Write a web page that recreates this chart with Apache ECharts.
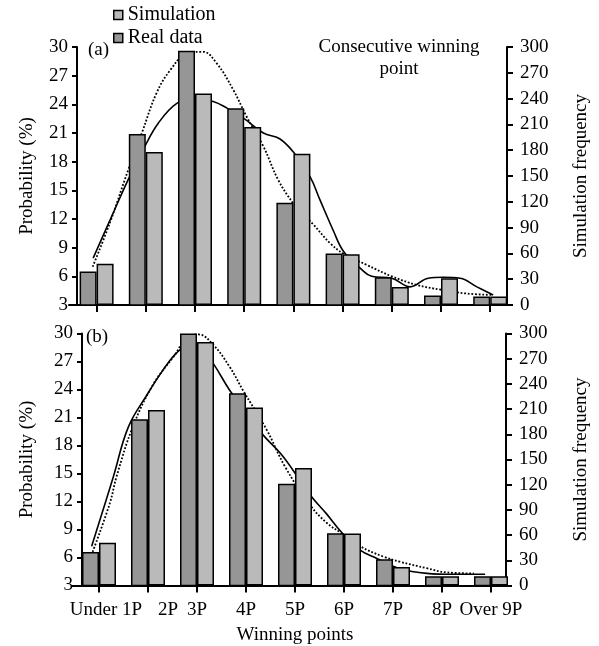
<!DOCTYPE html>
<html>
<head>
<meta charset="utf-8">
<script src="https://cdn.jsdelivr.net/npm/echarts@6/dist/echarts.min.js"></script>
<style>
html, body { margin: 0; padding: 0; background: #fff; }
#main { width: 599px; height: 646px; }
</style>
</head>
<body>
<div id="main"></div>
<script>
// categories on the x axis
var categories = ['Under 1P', '2P', '3P', '4P', '5P', '6P', '7P', '8P', 'Over 9P'];

// (a) bars: real data in %, simulation as frequency
var realA = [6.5, 20.9, 29.6, 23.6, 13.7, 8.4, 5.9, 4.0, 3.9];
var simA = [48, 178, 246, 207, 176, 59, 21, 31, 10];
// (b) bars
var realB = [6.6, 20.8, 30.0, 23.6, 13.9, 8.6, 5.8, 4.0, 4.0];
var simB = [51, 209, 290, 212, 140, 62, 22, 11, 11];

// fitted curves, [category position, %]
var solidA = [[-0.07, 7.9], [0.3, 12.2], [0.64, 16.1], [0.98, 19.6], [1.25, 22.0], [1.63, 24.1], [2.0, 24.6],
  [2.37, 24.3], [2.65, 23.6], [3.0, 22.5], [3.39, 21.0], [3.72, 20.4], [4.0, 19.0], [4.34, 16.4], [4.54, 14.0],
  [4.81, 10.8], [5.02, 8.6], [5.39, 6.7], [5.59, 6.0], [6.0, 5.8], [6.37, 4.9], [6.74, 5.8], [7.05, 5.9],
  [7.39, 5.8], [7.73, 4.9], [8.06, 4.05]];
var dottedA = [[-0.08, 7.0], [0.27, 11.6], [0.64, 17.1], [0.92, 21.0], [1.22, 25.2], [1.5, 27.6], [1.83, 29.3],
  [2.16, 29.5], [2.44, 28.3], [2.78, 25.5], [3.05, 22.7], [3.39, 19.6], [3.69, 16.1], [4.0, 13.6], [4.13, 12.9],
  [4.41, 11.4], [4.74, 9.5], [5.01, 8.4], [5.49, 7.2], [6.0, 6.0], [6.51, 5.1], [7.0, 4.6], [7.52, 4.2], [8.06, 4.05]];
var solidB = [[-0.15, 7.2], [0.29, 14.6], [0.6, 20.0], [1.0, 23.6], [1.31, 26.1], [1.58, 27.9], [1.85, 28.8],
  [2.1, 28.3], [2.33, 26.8], [2.67, 23.9], [3.0, 21.6], [3.32, 19.3], [3.76, 16.8], [4.31, 12.7], [4.64, 10.7],
  [4.95, 8.7], [5.33, 6.8], [5.67, 5.9], [6.14, 4.8], [6.69, 4.3], [7.22, 4.2], [7.88, 4.2]];
var dottedB = [[-0.13, 6.6], [0.22, 11.8], [0.36, 14.7], [0.69, 20.0], [1.1, 24.5], [1.52, 27.5], [1.86, 29.8],
  [2.03, 29.9], [2.33, 28.8], [2.67, 26.4], [2.94, 23.9], [3.42, 19.7], [3.8, 15.7], [4.31, 11.6], [4.65, 9.7],
  [4.95, 8.6], [5.33, 7.2], [5.8, 6.1], [6.14, 5.55], [6.69, 4.85], [7.1, 4.4], [7.65, 4.3]];

var font = 'Liberation Serif';
var dark = '#969696';
var light = '#bababa';
var black = '#000';

// plot = category bands, yLeft/yWidth = between the two y axis lines, xLeft/xWidth = the drawn x axis line
var panels = [
  { real: realA, sim: simA, solid: solidA, dotted: dottedA, top: 47, height: 258,
    plotLeft: 72, plotWidth: 442.8, yLeft: 77, yWidth: 430, xLeft: 69, xWidth: 438,
    leftGap: 35, rightGap: 65, labels: false },
  { real: realB, sim: simB, solid: solidB, dotted: dottedB, top: 333.5, height: 252,
    plotLeft: 74.5, plotWidth: 441, yLeft: 82, yWidth: 424, xLeft: 72, xWidth: 434,
    leftGap: 40, rightGap: 66, labels: true }
];

function lineStyle() { return { color: black, width: 2 }; }
function textStyle(size) { return { color: black, fontFamily: font, fontSize: size || 19 }; }

var grid = [], xAxis = [], yAxis = [], series = [];

panels.forEach(function (p) {
  var gPlot = grid.length;
  grid.push({ left: p.plotLeft, width: p.plotWidth, top: p.top, height: p.height });
  var gL = grid.length;
  grid.push({ left: p.yLeft - 5, width: p.yWidth + 5, top: p.top, height: p.height });
  var gR = grid.length;
  grid.push({ left: p.yLeft, width: p.yWidth, top: p.top, height: p.height });
  var gX = grid.length;
  grid.push({ left: p.xLeft, width: p.xWidth, top: p.top, height: p.height });

  // plot grid: category ticks/labels, hidden value axes for the marks
  var xCat = xAxis.length;
  xAxis.push({
    type: 'category', gridIndex: gPlot, data: categories,
    axisLine: { show: false },
    axisTick: { show: true, alignWithLabel: true, length: 7, lineStyle: lineStyle() },
    axisLabel: Object.assign({
      show: p.labels, interval: 0, margin: 15,
      formatter: function (v, idx) {
        if (idx === 0) return '{u|' + v + '}';
        if (idx === 1) return '{t|' + v + '}';
        return v;
      },
      rich: {
        u: Object.assign({ padding: [0, 0, 0, 14] }, textStyle()),
        t: Object.assign({ padding: [0, 0, 0, 40] }, textStyle())
      }
    }, textStyle()),
    name: p.labels ? 'Winning points' : '',
    nameLocation: 'middle', nameGap: 40,
    nameTextStyle: textStyle()
  });
  var xCurve = xAxis.length;
  xAxis.push({ type: 'value', gridIndex: gPlot, min: -0.5, max: 8.5, show: false });
  var yProb = yAxis.length;
  yAxis.push({ type: 'value', gridIndex: gPlot, position: 'left', min: 3, max: 30, show: false });
  var yFreq = yAxis.length;
  yAxis.push({ type: 'value', gridIndex: gPlot, position: 'right', min: 0, max: 300, show: false });

  // left axis: sits on x = 0 of a hidden pixel-scaled axis, 5px inside its grid
  xAxis.push({ type: 'value', gridIndex: gL, min: -5, max: p.yWidth, show: false });
  yAxis.push({
    type: 'value', gridIndex: gL, position: 'left',
    min: 3, max: 30, interval: 3,
    axisLine: { show: true, onZero: true, lineStyle: lineStyle() },
    axisTick: { show: true, length: 5, lineStyle: lineStyle() },
    axisLabel: Object.assign({ margin: 4 }, textStyle()),
    splitLine: { show: false },
    name: 'Probability (%)', nameLocation: 'middle', nameGap: p.leftGap,
    nameTextStyle: textStyle()
  });

  // right axis
  xAxis.push({ type: 'value', gridIndex: gR, min: 0, max: 1, show: false });
  yAxis.push({
    type: 'value', gridIndex: gR, position: 'right',
    min: 0, max: 300, interval: 30,
    axisLine: { show: true, onZero: false, lineStyle: lineStyle() },
    axisTick: { show: true, length: 6, lineStyle: lineStyle() },
    axisLabel: Object.assign({ margin: 13 }, textStyle()),
    splitLine: { show: false },
    name: 'Simulation frequency', nameLocation: 'middle', nameGap: p.rightGap,
    nameTextStyle: textStyle()
  });

  // x axis line
  xAxis.push({
    type: 'value', gridIndex: gX, min: 0, max: 1,
    axisLine: { show: true, onZero: false, lineStyle: lineStyle() },
    axisTick: { show: false }, axisLabel: { show: false }, splitLine: { show: false }
  });
  yAxis.push({ type: 'value', gridIndex: gX, min: 0, max: 1, show: false });

  series.push({
    type: 'line', name: 'fit dotted', xAxisIndex: xCurve, yAxisIndex: yProb,
    data: p.dotted, smooth: 0.4, showSymbol: false, z: 1,
    lineStyle: { color: black, width: 1.8, type: 'dotted' }
  });
  series.push({
    type: 'line', name: 'fit solid', xAxisIndex: xCurve, yAxisIndex: yProb,
    data: p.solid, smooth: 0.4, showSymbol: false, z: 1,
    lineStyle: { color: black, width: 1.6 }
  });
  series.push({
    type: 'bar', name: 'Real data', xAxisIndex: xCat, yAxisIndex: yProb,
    data: p.real, barWidth: 17, barGap: '0%', z: 3,
    itemStyle: { color: dark, borderColor: black, borderWidth: 1.5 }
  });
  series.push({
    type: 'bar', name: 'Simulation', xAxisIndex: xCat, yAxisIndex: yFreq,
    data: p.sim, barWidth: 17, barGap: '0%', z: 3,
    itemStyle: { color: light, borderColor: black, borderWidth: 1.5 }
  });
});

var chart = echarts.init(document.getElementById('main'));
chart.setOption({
  animation: false,
  backgroundColor: '#fff',
  legend: {
    data: ['Simulation', 'Real data'],
    orient: 'vertical', left: 113, top: 5, padding: 0, itemGap: 3,
    itemWidth: 9, itemHeight: 9, icon: 'rect',
    itemStyle: { borderColor: black, borderWidth: 1.5 },
    textStyle: textStyle(20)
  },
  grid: grid,
  xAxis: xAxis,
  yAxis: yAxis,
  series: series,
  graphic: [
    { type: 'text', left: 88, top: 41, style: { text: '(a)', fill: black, font: '19px "Liberation Serif"' } },
    { type: 'text', left: 86, top: 328, style: { text: '(b)', fill: black, font: '19px "Liberation Serif"' } },
    { type: 'text', x: 399, y: 36, style: { text: 'Consecutive winning\npoint', fill: black, align: 'center',
      lineHeight: 22, font: '19px "Liberation Serif"' } }
  ]
});
</script>
</body>
</html>
